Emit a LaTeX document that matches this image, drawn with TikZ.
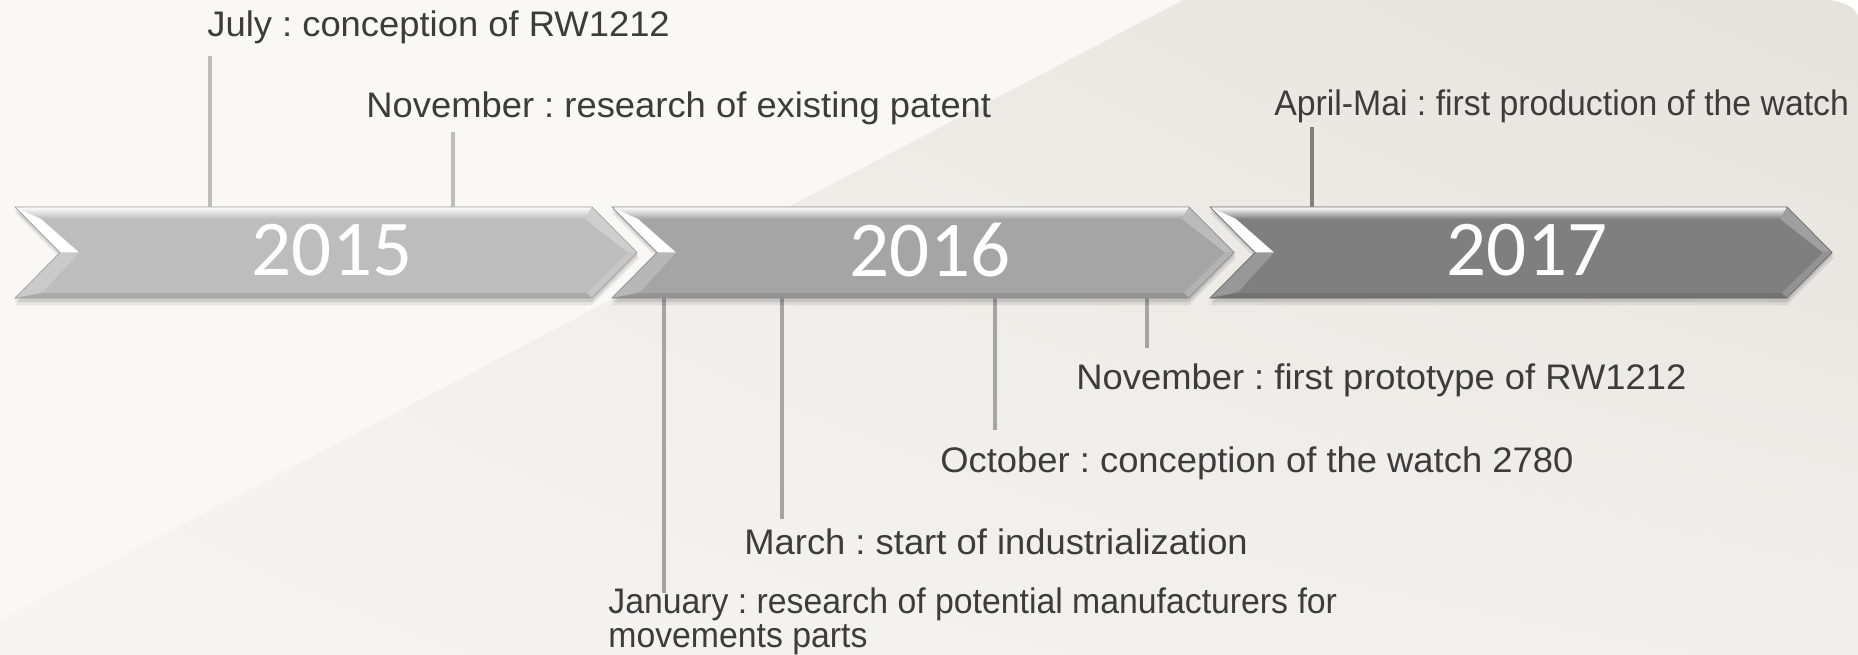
\documentclass[tikz,border=0pt]{standalone}
\usepackage{fontspec}
\usepackage{tikz}
\usetikzlibrary{shadings}
\frenchspacing
\newfontfamily\labfont[FakeStretch=1.025]{Liberation Sans}
\newfontfamily\labnarrow[FakeStretch=0.952]{Liberation Sans}
\newfontfamily\yearfont{Carlito}
\definecolor{bgUL}{HTML}{F3F1ED}
\definecolor{bgUR}{HTML}{E6E2DC}
\definecolor{bgLL}{HTML}{F6F5F3}
\definecolor{bgLR}{HTML}{F1EFEC}
\definecolor{bgLight}{HTML}{F9F8F6}
\definecolor{labgray}{HTML}{3C3C3C}
\definecolor{bar15}{HTML}{BDBDBD}
\definecolor{bar16}{HTML}{A5A5A5}
\definecolor{bar17}{HTML}{7F7F7F}
\tikzset{
    lbl/.style={font=\labfont\fontsize{20.2}{19.3}\selectfont, text=labgray,
        inner sep=0pt, anchor=base west, align=left},
    lblnarrow/.style={lbl, font=\labnarrow\fontsize{20.2}{19.3}\selectfont},
    yeartext/.style={font=\yearfont\fontsize{45}{50}\selectfont, text=white, inner sep=0pt},
    tick15/.style={draw=bar15, line width=2.8pt},
    tick16/.style={draw=bar16, line width=2.8pt},
    tick17/.style={draw=bar17, line width=2.8pt},
}
% one bevelled arrow of the time line, #1 left edge, #2 colour
\newcommand{\yearbar}[2]{%
\begin{scope}[shift={(#1,0)}]
\fill[black,opacity=.08] (0,213)--(577,213)--(624,258)--(577,305)--(0,305)--(45,258)--cycle;
\fill[black,opacity=.10] (0,210)--(577,210)--(623,255)--(577,302)--(0,302)--(45,255)--cycle;
\fill[#2] (0,207)--(577,207)--(622,252.5)--(577,298)--(0,298)--(45,252.5)--cycle;
\shade[top color=white, bottom color=#2] (0,207)--(577,207)--(570,219)--(26,219)--cycle;
\fill[white] (0,207)--(26,219)--(64,252.5)--(45,252.5)--cycle;
\fill[#2!80!white] (0,298)--(45,252.5)--(64,252.5)--(28,292)--cycle;
\fill[#2!90!black] (0,298)--(577,298)--(572,293)--(28,293)--cycle;
\fill[#2!75!white] (577,207)--(622,252.5)--(613,252.5)--(570,219)--cycle;
\fill[#2!85!white] (622,252.5)--(577,298)--(572,293)--(613,252.5)--cycle;
\draw[#2!85!black, line width=.4pt] (0,207)--(577,207)--(622,252.5)--(577,298)--(0,298)--(45,252.5)--cycle;
\end{scope}}

\begin{document}
\begin{tikzpicture}[x=0.02cm, y=-0.02cm]
\useasboundingbox (0,0) rectangle (1858,655);
\shade[upper left=bgUL, upper right=bgUR, lower left=bgLL, lower right=bgLR] (0,0) rectangle (1858,655);
\fill[bgLight] (0,0) -- (1183,0) -- (0,620) -- cycle;
\fill[white] (1830,0) .. controls (1848,3) and (1855,8) .. (1858,16) -- (1858,0) -- cycle;

% labels
\node[lbl] (lbJuly) at (207,37) {July : conception of RW1212};
\node[lbl] (lbPat) at (366,118) {November : research of existing patent};
\node[lblnarrow] (lbApr) at (1274,116) {April-Mai : first production of the watch};
\node[lbl] (lbProto) at (1076,389) {November : first prototype of RW1212};
\node[lbl] (lbOct) at (940,472) {October : conception of the watch 2780};
\node[lbl] (lbMar) at (744,554) {March : start of industrialization};
\node[lblnarrow] (lbJan) at (608,647) {January : research of potential manufacturers for\\movements parts};

% ticks
\coordinate (tJuly) at (210,207);
\coordinate (tPat) at (453,207);
\coordinate (tApr) at (1312,207);
\coordinate (bJan) at (664,298);
\coordinate (bMar) at (782,298);
\coordinate (bOct) at (995,298);
\coordinate (bProto) at (1147,298);
\draw[tick15] (lbJuly.south -| tJuly) ++(0,11) -- (tJuly);
\draw[tick15] (lbPat.south -| tPat) ++(0,6) -- (tPat);
\draw[tick17] (lbApr.south -| tApr) ++(0,3) -- (tApr);
\draw[tick16] (lbJan.north -| bJan) ++(0,6) -- (bJan);
\draw[tick16] (lbMar.north -| bMar) ++(0,-9) -- (bMar);
\draw[tick16] (lbOct.north -| bOct) ++(0,-16) -- (bOct);
\draw[tick16] (lbProto.north -| bProto) ++(0,-15) -- (bProto);

% arrows
\yearbar{15}{bar15}
\yearbar{612}{bar16}
\yearbar{1210}{bar17}
\node[yeartext] (y2015) at (332,250) {2015};
\node[yeartext] (y2016) at (930,250) {2016};
\node[yeartext] (y2017) at (1527,250) {2017};
\end{tikzpicture}
\end{document}
